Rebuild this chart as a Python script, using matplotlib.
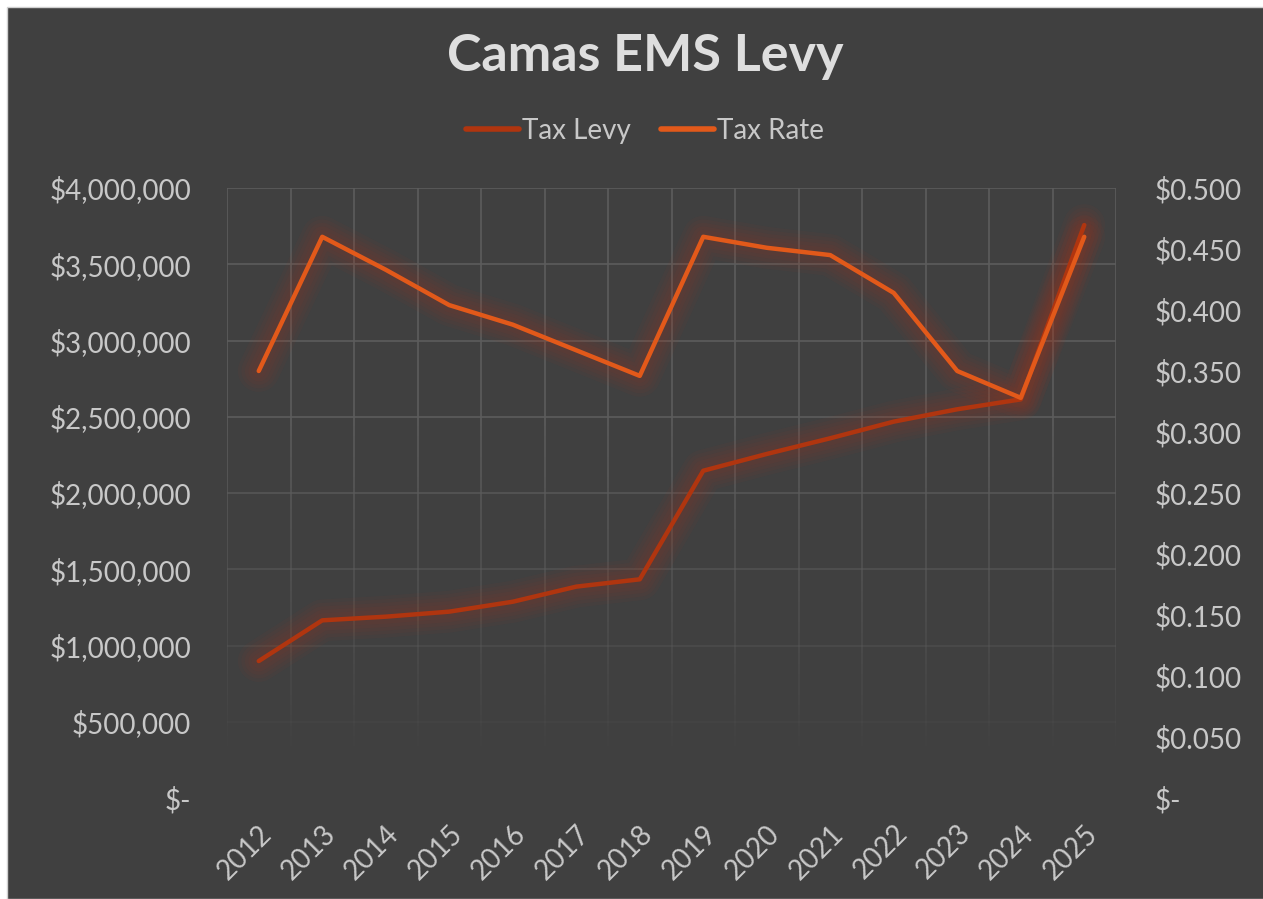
import numpy as np
import matplotlib
matplotlib.use('Agg')
import matplotlib.pyplot as plt
from matplotlib.patches import Rectangle
from matplotlib.ticker import FuncFormatter

years = ['2012', '2013', '2014', '2015', '2016', '2017', '2018',
         '2019', '2020', '2021', '2022', '2023', '2024', '2025']
tax_levy = [898000, 1165000, 1189000, 1222000, 1287000, 1386000, 1434000,
            2146000, 2256000, 2359000, 2468000, 2549000, 2614000, 3757000]
tax_rate = [0.350, 0.460, 0.433, 0.404, 0.388, 0.367, 0.346,
            0.460, 0.451, 0.445, 0.414, 0.350, 0.328, 0.460]

bg = '#404040'
txt = '#c8c8c8'
levy_col = '#b0350f'
rate_col = '#e2591a'
glow_col = '#b4381c'

plt.rcParams['font.family'] = ['Lato', 'DejaVu Sans']

fig = plt.figure(figsize=(12.63, 8.99), dpi=100, facecolor='white')
# dark chart area (white strip on top and left like the screenshot)
fig.patches.append(Rectangle((7/1263, 0), 1, 1 - 7/899, transform=fig.transFigure,
                             facecolor=bg, edgecolor='#d0d0d0', lw=1, zorder=-5))

ax1 = fig.add_axes([227/1263, 1 - 798/899, (1116-227)/1263, (798-188)/899])
ax1.set_facecolor(bg)
ax1.patch.set_alpha(0)
ax2 = ax1.twinx()

x = np.arange(len(years))
ax1.set_xlim(-0.5, len(years) - 0.5)
ax1.set_ylim(0, 4000000)
ax2.set_ylim(0, 0.5)
ax1.set_yticks(np.arange(0, 4000001, 500000))
ax2.set_yticks(np.arange(0, 0.5001, 0.05))

# grid lines, fading towards the bottom
gcol = '#5c5c5c'
for v in np.arange(500000, 4000001, 500000):
    a = min(1, max(0, (v - 300000) / 2200000)) ** 0.8
    ax1.axhline(v, color=gcol, lw=1.2, alpha=a, zorder=1)
for xb in np.arange(-0.5, len(years), 1.0):
    ys = np.linspace(0, 4000000, 60)
    for i in range(len(ys) - 1):
        mid = (ys[i] + ys[i+1]) / 2
        a = min(1, max(0, (mid - 300000) / 2200000)) ** 0.8
        ax1.plot([xb, xb], [ys[i], ys[i+1]], color=gcol, lw=1.2, alpha=a,
                 zorder=1, solid_capstyle='butt')

for s in ['left', 'right', 'top', 'bottom']:
    ax1.spines[s].set_visible(False)
    ax2.spines[s].set_visible(False)

# soft glow around the lines
for w in [30, 25, 20, 15, 10]:
    ax1.plot(x, tax_levy, color=glow_col, lw=w, alpha=0.05,
             solid_joinstyle='round', solid_capstyle='round', zorder=2)
    ax2.plot(x, tax_rate, color=glow_col, lw=w, alpha=0.05,
             solid_joinstyle='round', solid_capstyle='round', zorder=2)
l1, = ax1.plot(x, tax_levy, color=levy_col, lw=3.2, solid_joinstyle='round',
               solid_capstyle='round', zorder=3, label='Tax Levy')
l2, = ax2.plot(x, tax_rate, color=rate_col, lw=3.2, solid_joinstyle='round',
               solid_capstyle='round', zorder=3, label='Tax Rate')

ax1.yaxis.set_major_formatter(FuncFormatter(lambda v, p: '$-' if v == 0 else '${:,.0f}'.format(v)))
ax2.yaxis.set_major_formatter(FuncFormatter(lambda v, p: '$-' if abs(v) < 1e-9 else '${:.3f}'.format(v)))

ax1.set_xticks(x)
ax1.set_xticklabels(years, rotation=45, ha='right', va='top', rotation_mode='anchor')
ax1.tick_params(axis='x', length=0, pad=16, labelsize=20, colors=txt)
ax1.tick_params(axis='y', length=0, pad=26, labelsize=20, colors=txt)
ax2.tick_params(axis='y', length=0, pad=28, labelsize=20, colors=txt)

fig.text(645/1263, 1 - 57/899, 'Camas EMS Levy', ha='center', va='center',
         fontsize=37.5, fontweight='bold', color='#dedede')

leg = fig.legend(handles=[l1, l2], loc='center', bbox_to_anchor=(645/1263, 1 - 131/899),
                 ncol=2, frameon=False, fontsize=20, handlelength=1.9,
                 handletextpad=0.1, columnspacing=1.1, labelcolor=txt)
for h in leg.get_lines():
    h.set_linewidth(4)

fig.savefig('out.png', dpi=100, facecolor=fig.get_facecolor())
